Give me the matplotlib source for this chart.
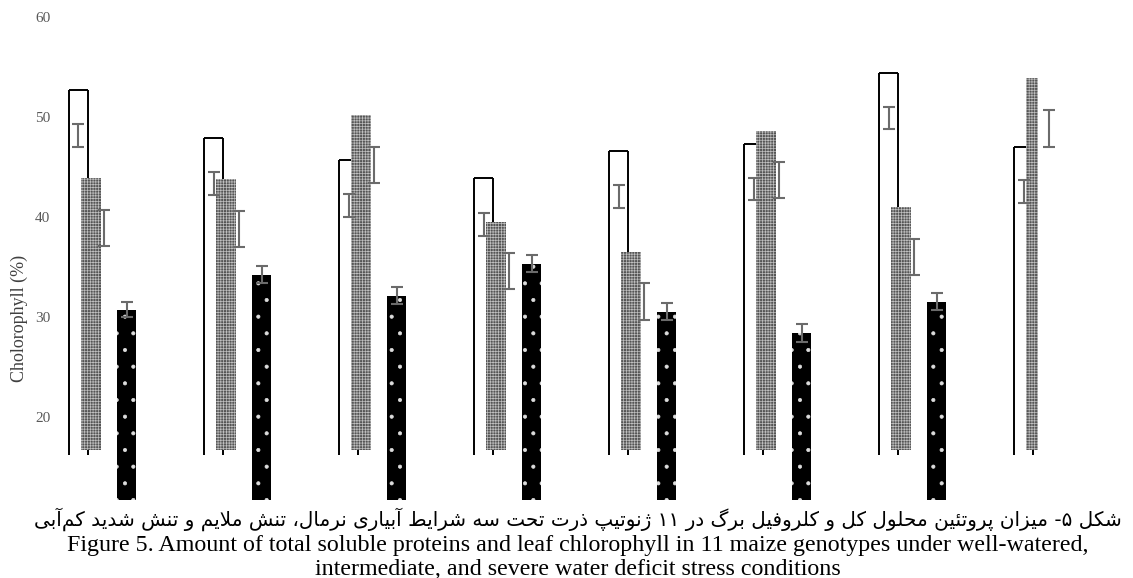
import numpy as np
import matplotlib
matplotlib.use("Agg")
import matplotlib.pyplot as plt
from matplotlib import font_manager, ft2font

plt.rcParams['font.family'] = ['Liberation Serif', 'DejaVu Sans']
plt.rcParams['hatch.linewidth'] = 0.5

# values (only 8 genotypes are visible in the figure)
genotypes = np.arange(8)
normal_top = [52.7, 47.9, 45.7, 43.9, 46.6, 47.3, 54.4, 47.0]
mild_top = [43.9, 43.8, 50.2, 39.5, 36.5, 48.6, 41.0, 53.9]
severe_top = [30.7, 34.2, 32.1, 35.3, 30.5, 28.4, 31.5]

normal_err_lo = [47.0, 42.2, 40.0, 38.1, 40.9, 41.7, 48.8, 41.4]
normal_err_hi = [49.3, 44.5, 42.3, 40.4, 43.2, 43.9, 51.0, 43.7]
mild_err_lo = [37.1, 37.0, 43.4, 32.8, 29.7, 41.9, 34.2, 47.0]
mild_err_hi = [40.7, 40.6, 47.0, 36.4, 33.4, 45.5, 37.8, 50.7]
severe_err_lo = [30.0, 33.4, 31.3, 34.5, 29.7, 27.5, 30.7]
severe_err_hi = [31.5, 35.1, 33.0, 36.2, 31.4, 29.3, 32.4]

normal_base = 16.2
mild_base = 16.7
severe_base = 0.0

yticks = [20, 30, 40, 50, 60]
ylabel = "Cholorophyll (%)"
caption_fa = "شکل ۵- میزان پروتئین محلول کل و کلروفیل برگ در ۱۱ ژنوتیپ ذرت تحت سه شرایط آبیاری نرمال، تنش ملایم و تنش شدید کم\u200cآبی"
caption_en1 = "Figure 5. Amount of total soluble proteins and leaf chlorophyll in 11 maize genotypes under well-watered,"
caption_en2 = "intermediate, and severe water deficit stress conditions"


# --- tiny Persian shaper: matplotlib does no Arabic joining or RTL ---
# isolated, final, initial, medial (None -> letter does not join the next one)
FORMS = {
    'ا': ('\uFE8D', '\uFE8E', None, None),
    'آ': ('\uFE81', '\uFE82', None, None),
    'ب': ('\uFE8F', '\uFE90', '\uFE91', '\uFE92'),
    'پ': ('\uFB56', '\uFB57', '\uFB58', '\uFB59'),
    'ت': ('\uFE95', '\uFE96', '\uFE97', '\uFE98'),
    'ح': ('\uFEA1', '\uFEA2', '\uFEA3', '\uFEA4'),
    'د': ('\uFEA9', '\uFEAA', None, None),
    'ذ': ('\uFEAB', '\uFEAC', None, None),
    'ر': ('\uFEAD', '\uFEAE', None, None),
    'ز': ('\uFEAF', '\uFEB0', None, None),
    'ژ': ('\uFB8A', '\uFB8B', None, None),
    'س': ('\uFEB1', '\uFEB2', '\uFEB3', '\uFEB4'),
    'ش': ('\uFEB5', '\uFEB6', '\uFEB7', '\uFEB8'),
    'ط': ('\uFEC1', '\uFEC2', '\uFEC3', '\uFEC4'),
    'ف': ('\uFED1', '\uFED2', '\uFED3', '\uFED4'),
    'ک': ('\uFB8E', '\uFB8F', '\uFB90', '\uFB91'),
    'گ': ('\uFB92', '\uFB93', '\uFB94', '\uFB95'),
    'ل': ('\uFEDD', '\uFEDE', '\uFEDF', '\uFEE0'),
    'م': ('\uFEE1', '\uFEE2', '\uFEE3', '\uFEE4'),
    'ن': ('\uFEE5', '\uFEE6', '\uFEE7', '\uFEE8'),
    'ه': ('\uFEE9', '\uFEEA', '\uFEEB', '\uFEEC'),
    'و': ('\uFEED', '\uFEEE', None, None),
    'ئ': ('\uFE89', '\uFE8A', '\uFE8B', '\uFE8C'),
    'ی': ('\uFBFC', '\uFBFD', '\uFBFE', '\uFBFF'),
}
LAM_ALEF = {'ا': ('\uFEFB', '\uFEFC'), 'آ': ('\uFEF5', '\uFEF6')}
# used only if the font lacks the Persian presentation forms
FALLBACK = {
    '\uFB56': '\uFE8F', '\uFB57': '\uFE90', '\uFB58': '\uFE91', '\uFB59': '\uFE92',
    '\uFB8A': '\uFEAF', '\uFB8B': '\uFEB0',
    '\uFB8E': '\uFED9', '\uFB8F': '\uFEDA', '\uFB90': '\uFEDB', '\uFB91': '\uFEDC',
    '\uFB92': '\uFED9', '\uFB93': '\uFEDA', '\uFB94': '\uFEDB', '\uFB95': '\uFEDC',
    '\uFBFC': '\uFEEF', '\uFBFD': '\uFEF0', '\uFBFE': '\uFEF3', '\uFBFF': '\uFEF4',
    '۵': '\u0665', '۱': '\u0661',
}


def joins_next(c):
    return c in FORMS and FORMS[c][2] is not None


def shape_fa(text, charmap):
    out = []
    i = 0
    n = len(text)
    while i < n:
        c = text[i]
        if c not in FORMS:
            if c != '\u200c':
                out.append(c)
            i += 1
            continue
        linked = i > 0 and joins_next(text[i - 1])
        if c == 'ل' and i + 1 < n and text[i + 1] in LAM_ALEF:
            iso, fin = LAM_ALEF[text[i + 1]]
            out.append(fin if linked else iso)
            i += 2
            continue
        nxt = text[i + 1] if i + 1 < n else ''
        to_next = joins_next(c) and nxt in FORMS
        iso, fin, ini, med = FORMS[c]
        if linked and to_next:
            out.append(med)
        elif linked:
            out.append(fin)
        elif to_next:
            out.append(ini)
        else:
            out.append(iso)
        i += 1
    out = [g if ord(g) in charmap else FALLBACK.get(g, g) for g in out]
    return ''.join(reversed(out))


fa_path = font_manager.findfont(font_manager.FontProperties(family='DejaVu Sans'))
fa_cmap = ft2font.FT2Font(fa_path).get_charmap()

# --- layout (pixels of the 1133x578 reference) ---
W, H = 1133, 578
fig = plt.figure(figsize=(W / 100, H / 100), dpi=100)
ax = fig.add_axes([60 / W, (H - 500) / H, 978 / W, 490 / H])

bar_w = 0.144
off_mild = 0.093
off_severe = 0.356
off_mild_err = 0.189

x = genotypes.astype(float)
x_sev = x[:len(severe_top)]

# normal: white bar, outline without a bottom edge
ax.bar(x, np.array(normal_top) - normal_base, bottom=normal_base, width=bar_w,
       color='white', edgecolor='none', zorder=1)
ax.vlines(x - bar_w / 2, normal_base, normal_top, color='black', lw=1.4, zorder=2)
ax.vlines(x + bar_w / 2, normal_base, normal_top, color='black', lw=1.4, zorder=2)
ax.hlines(normal_top, x - bar_w / 2, x + bar_w / 2, color='black', lw=1.4, zorder=2)

# mild stress: grey checker
ax.bar(x + off_mild, np.array(mild_top) - mild_base, bottom=mild_base, width=bar_w,
       color='#555555', edgecolor='#c0c0c0', hatch='++++++', lw=0, zorder=3)

# severe stress: black with white dots
ax.bar(x_sev + off_severe, np.array(severe_top) - severe_base, bottom=severe_base,
       width=bar_w, color='black', edgecolor='#dddddd', hatch='.', lw=0, zorder=3)


def err(xs, lo, hi):
    lo = np.array(lo)
    hi = np.array(hi)
    eb = ax.errorbar(xs, (lo + hi) / 2, yerr=(hi - lo) / 2, fmt='none',
                     ecolor='#6b6b6b', elinewidth=1.5, capsize=4, capthick=1.5,
                     zorder=4)
    for art in list(eb.lines[1]) + list(eb.lines[2]):
        art.set_clip_on(False)


err(x, normal_err_lo, normal_err_hi)
err(x + off_mild_err, mild_err_lo, mild_err_hi)
err(x_sev + off_severe, severe_err_lo, severe_err_hi)

ax.set_xlim(-0.137, 7.107)
ax.set_ylim(11.7, 60.7)
ax.set_yticks(yticks)
ax.set_xticks([])
ax.tick_params(axis='y', length=0, pad=7, labelcolor='#595959', labelsize=11)
for s in ax.spines.values():
    s.set_visible(False)
ax.set_ylabel(ylabel, fontsize=13, color='#404040')
ax.yaxis.set_label_coords(-0.033, 0.371)

# --- caption ---
cx = 578 / W
t_fa = fig.text(cx, (H - 526) / H, shape_fa(caption_fa, fa_cmap), family=['DejaVu Sans'],
                fontsize=14, ha='center', va='baseline', color='black')
t_en1 = fig.text(cx, (H - 551) / H, caption_en1, fontsize=16, ha='center',
                 va='baseline', color='black')
t_en2 = fig.text(cx, (H - 575) / H, caption_en2, fontsize=16, ha='center',
                 va='baseline', color='black')

# fit caption widths to the reference
fig.canvas.draw()
r = fig.canvas.get_renderer()
w = t_fa.get_window_extent(r).width
t_fa.set_fontsize(t_fa.get_fontsize() * 1098 / w)
w = t_en1.get_window_extent(r).width
fs = t_en1.get_fontsize() * 1022 / w
t_en1.set_fontsize(fs)
t_en2.set_fontsize(fs)

fig.savefig('out.png', dpi=100)
